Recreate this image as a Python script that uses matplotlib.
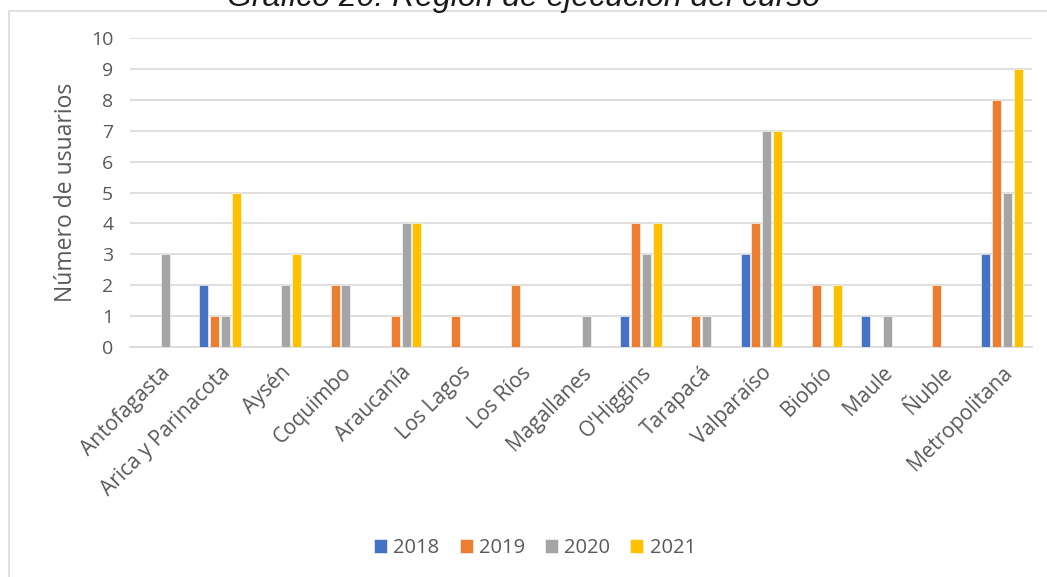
import matplotlib.pyplot as plt
import numpy as np
from matplotlib.patches import Rectangle

plt.rcParams['font.family'] = ['Open Sans', 'DejaVu Sans']

regiones = ["Antofagasta", "Arica y Parinacota", "Aysén", "Coquimbo", "Araucanía",
            "Los Lagos", "Los Ríos", "Magallanes", "O'Higgins", "Tarapacá",
            "Valparaíso", "Biobío", "Maule", "Ñuble", "Metropolitana"]
anios = ["2018", "2019", "2020", "2021"]
v2018 = [0, 2, 0, 0, 0, 0, 0, 0, 1, 0, 3, 0, 1, 0, 3]
v2019 = [0, 1, 0, 2, 1, 1, 2, 0, 4, 1, 4, 2, 0, 2, 8]
v2020 = [3, 1, 2, 2, 4, 0, 0, 1, 3, 1, 7, 0, 1, 0, 5]
v2021 = [0, 5, 3, 0, 4, 0, 0, 0, 4, 0, 7, 2, 0, 0, 9]
colores = ["#4472C4", "#ED7D31", "#A5A5A5", "#FFC000"]

TXT = "#595959"

fig = plt.figure(figsize=(10.47, 5.77), dpi=100)
ax = fig.add_axes([130 / 1047, 1 - 347 / 577, 902 / 1047, 309 / 577])

# marco del gráfico
fig.patches.append(Rectangle((9 / 1047, -0.1), 1.2, 1 - 11 / 577 + 0.1,
                             transform=fig.transFigure, fill=False,
                             edgecolor="#D9D9D9", linewidth=1.2))

x = np.arange(len(regiones)) + 0.5
paso = 0.18
ancho = 0.15
for i, (serie, col) in enumerate(zip([v2018, v2019, v2020, v2021], colores)):
    ax.bar(x + (i - 1.5) * paso, serie, width=ancho, color=col,
           edgecolor="white", linewidth=0.4, label=anios[i], zorder=3)

ax.set_xlim(0, len(regiones))
ax.set_ylim(0, 10)
ax.set_yticks(range(0, 11))
ax.yaxis.grid(True, color="#D9D9D9", linewidth=1.2, zorder=0)
ax.set_axisbelow(True)
for s in ["top", "right", "left"]:
    ax.spines[s].set_visible(False)
ax.spines["bottom"].set_color("#D9D9D9")
ax.spines["bottom"].set_linewidth(1.2)
ax.tick_params(axis="both", length=0, colors=TXT)
ax.tick_params(axis="y", pad=12, labelsize=14)
ax.set_xticks(x)
ax.set_xticklabels(regiones, rotation=45, ha="right", rotation_mode="anchor")
ax.tick_params(axis="x", pad=11, labelsize=15)
ax.set_ylabel("Número de usuarios", fontsize=16.5, color=TXT, labelpad=9)

fig.text(0.5, 1 - 6 / 577, "Gráfico 20: Región de ejecución del curso",
         ha="center", va="baseline", fontsize=23, style="italic",
         color="#1a1a1a", family=["Liberation Sans", "DejaVu Sans"])

leg = fig.legend(loc="center", bbox_to_anchor=(535 / 1047, 1 - 548 / 577),
                 ncol=4, frameon=False, fontsize=14.5, handlelength=0.65,
                 handleheight=0.65, handletextpad=0.3, columnspacing=1.0)
for t in leg.get_texts():
    t.set_color(TXT)

fig.savefig("out.png", dpi=100)
